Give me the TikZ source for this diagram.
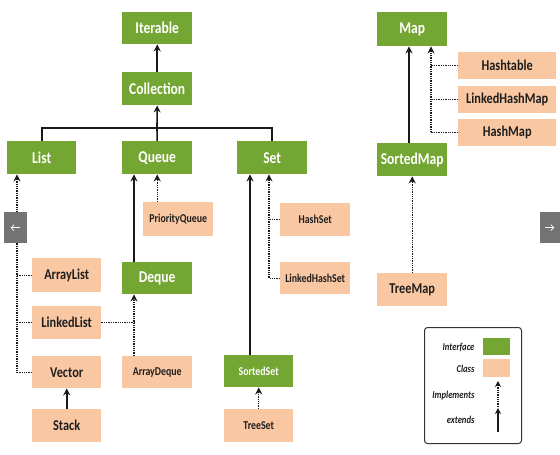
\documentclass[tikz,border=0pt]{standalone}
\usepackage{fontspec}
\setmainfont[FakeStretch=0.82]{Carlito}
\usetikzlibrary{arrows.meta}
\definecolor{ifc}{RGB}{116,166,52}
\definecolor{clc}{RGB}{250,199,163}
\definecolor{txt}{RGB}{30,30,30}
\tikzset{
  box/.style={rectangle, inner sep=0pt, anchor=north west},
  ifbox/.style={box, fill=ifc, text=white, font=\fontsize{16.5}{18}\selectfont\bfseries},
  clbox/.style={box, fill=clc, text=txt, font=\fontsize{15}{17}\selectfont\bfseries},
  small/.style={font=\fontsize{12}{14}\selectfont\bfseries},
  ext/.style={line width=1.6pt, draw=black!90, -{Stealth[length=7pt,width=7pt]}},
  impl/.style={line width=1.3pt, densely dotted, draw=black!90, -{Stealth[length=7pt,width=7pt]}},
  plainln/.style={line width=1.6pt, draw=black!90},
  dotln/.style={line width=1.3pt, densely dotted, draw=black!90},
  legtxt/.style={anchor=east, font=\fontsize{10.5}{12}\selectfont\bfseries\itshape, text=txt},
}
\begin{document}
\begin{tikzpicture}[x=1pt,y=-1pt]
\useasboundingbox (0,0) rectangle (560,455);
% interfaces
\node[ifbox, minimum width=70pt, minimum height=32pt] (Iterable) at (122,12) {Iterable};
\node[ifbox, minimum width=70pt, minimum height=33pt] (Collection) at (122,72) {Collection};
\node[ifbox, minimum width=69pt, minimum height=33pt] (List) at (7,141) {List};
\node[ifbox, minimum width=70pt, minimum height=33pt] (Queue) at (122,141) {Queue};
\node[ifbox, minimum width=70pt, minimum height=33pt] (Set) at (237,141) {Set};
\node[ifbox, minimum width=70pt, minimum height=32pt] (Deque) at (122,262) {Deque};
\node[ifbox, minimum width=69pt, minimum height=32pt, small] (SortedSet) at (224,355) {SortedSet};
\node[ifbox, minimum width=70pt, minimum height=34pt] (Map) at (377,12) {Map};
\node[ifbox, minimum width=70pt, minimum height=33pt] (SortedMap) at (377,143) {SortedMap};
% classes
\node[clbox, minimum width=70pt, minimum height=34pt, small] (PriorityQueue) at (143,202) {PriorityQueue};
\node[clbox, minimum width=69pt, minimum height=34pt] (ArrayList) at (32,258) {ArrayList};
\node[clbox, minimum width=69pt, minimum height=33pt] (LinkedList) at (32,306) {LinkedList};
\node[clbox, minimum width=69pt, minimum height=32pt] (Vector) at (32,356) {Vector};
\node[clbox, minimum width=69pt, minimum height=33pt] (Stack) at (32,409) {Stack};
\node[clbox, minimum width=70pt, minimum height=32pt, small] (ArrayDeque) at (122,356) {ArrayDeque};
\node[clbox, minimum width=69pt, minimum height=33pt, small] (TreeSet) at (224,409) {TreeSet};
\node[clbox, minimum width=70pt, minimum height=33pt, small] (HashSet) at (280,203) {HashSet};
\node[clbox, minimum width=70pt, minimum height=32pt, small] (LinkedHashSet) at (280,262) {LinkedHashSet};
\node[clbox, minimum width=98pt, minimum height=27pt] (Hashtable) at (458,52) {Hashtable};
\node[clbox, minimum width=98pt, minimum height=27pt] (LinkedHashMap) at (458,86) {LinkedHashMap};
\node[clbox, minimum width=98pt, minimum height=27pt] (HashMap) at (458,119) {HashMap};
\node[clbox, minimum width=70pt, minimum height=33pt] (TreeMap) at (377,273) {TreeMap};
% Collection hierarchy
\draw[ext] (Collection.north) -- (Iterable.south);
\coordinate (bar) at (157,128);
\draw[plainln] (List.north) |- (bar) -| (Set.north);
\draw[plainln] (Queue.north) -- (bar);
\draw[ext] (bar) -- (Collection.south);
% List
\coordinate (Lin) at ([xshift=10pt]List.south west);
\draw[impl] (Vector.west) -| (Lin);
\draw[dotln] (ArrayList.west) -- (ArrayList.west -| Lin);
\draw[dotln] (LinkedList.west) -- (LinkedList.west -| Lin);
\draw[ext] (Stack.north) -- (Vector.south);
% Queue
\coordinate (Qext) at ([xshift=12pt]Queue.south west);
\draw[ext] (Deque.north -| Qext) -- (Qext);
\draw[impl] (PriorityQueue.north -| Queue.south) -- (Queue.south);
\coordinate (Dimp) at ([xshift=12pt]Deque.south west);
\draw[impl] (ArrayDeque.north -| Dimp) -- (Dimp);
\draw[dotln] (LinkedList.east) -- (LinkedList.east -| Dimp);
% Set
\coordinate (Sext) at ([xshift=13pt]Set.south west);
\coordinate (Simp) at ([xshift=32pt]Set.south west);
\draw[ext] (SortedSet.north -| Sext) -- (Sext);
\draw[impl] (LinkedHashSet.west) -| (Simp);
\draw[dotln] (HashSet.west) -- (HashSet.west -| Simp);
\draw[impl] (TreeSet.north) -- (SortedSet.north |- SortedSet.south);
% Map
\coordinate (Mext) at ([xshift=32pt]Map.south west);
\coordinate (Mimp) at ([xshift=54pt]Map.south west);
\draw[ext] (SortedMap.north -| Mext) -- (Mext);
\draw[impl] (HashMap.west) -| (Mimp);
\draw[dotln] (Hashtable.west) -- (Hashtable.west -| Mimp);
\draw[dotln] (LinkedHashMap.west) -- (LinkedHashMap.west -| Mimp);
\draw[impl] (TreeMap.north) -- (SortedMap.south);
% legend
\node[draw=black!80, line width=1pt, rounded corners=3pt, box, minimum width=97pt, minimum height=116pt] (legend) at (424,327) {};
\node[box, fill=ifc, minimum width=27pt, minimum height=17pt] (lgI) at (483,338) {};
\node[box, fill=clc, minimum width=27pt, minimum height=18pt] (lgC) at (483,359) {};
\node[legtxt] (tI) at (478,347) {Interface};
\node[legtxt] (tC) at (478,369) {Class};
\node[legtxt] (tImp) at (478,396) {Implements};
\node[legtxt] (tExt) at (478,420) {extends};
\coordinate (iA) at (498,407);
\coordinate (iB) at (498,381);
\coordinate (eA) at (498,432);
\coordinate (eB) at (498,408);
\draw[impl, line width=1.1pt, -{Stealth[length=6pt,width=6pt]}] (iA) -- (iB);
\draw[ext, line width=1.3pt, -{Stealth[length=6pt,width=6pt]}] (eA) -- (eB);
% navigation buttons
\node[box, fill=black!55, minimum width=23pt, minimum height=31pt] (navL) at (4,212) {};
\node[box, fill=black!55, minimum width=20pt, minimum height=31pt] (navR) at (540,212) {};
\draw[white, line width=0.7pt, -{Straight Barb[length=3pt,width=6pt]}] ([xshift=4pt]navL.center) -- ([xshift=-5pt]navL.center);
\draw[white, line width=0.7pt, -{Straight Barb[length=3pt,width=6pt]}] ([xshift=-5pt]navR.center) -- ([xshift=4pt]navR.center);
\end{tikzpicture}
\end{document}
